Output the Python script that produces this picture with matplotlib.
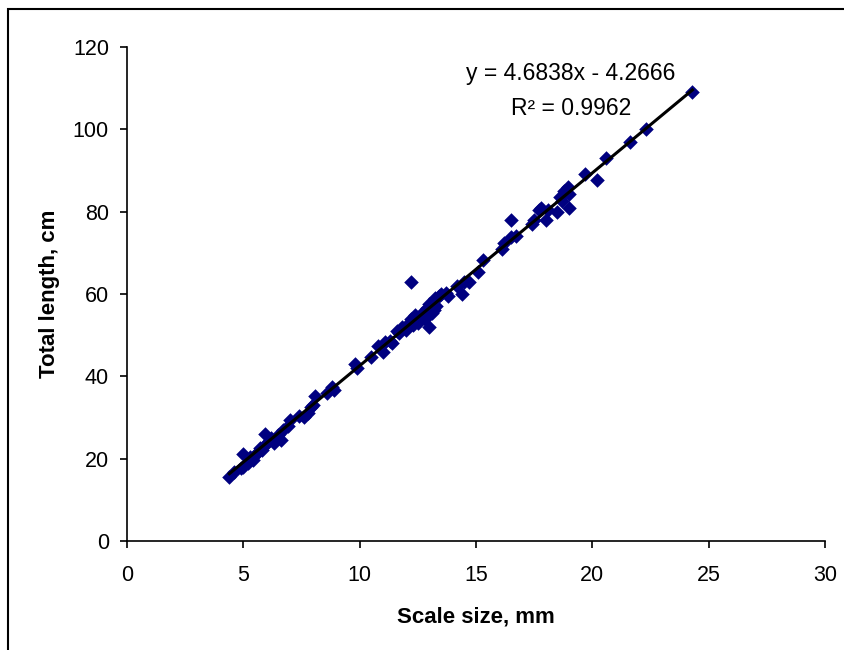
import matplotlib
matplotlib.use("Agg")
import matplotlib.pyplot as plt
from matplotlib.patches import Rectangle
import numpy as np

plt.rcParams["font.family"] = ["Liberation Sans", "DejaVu Sans"]

# scale size (mm) vs total length (cm)
scale_mm = [4.4, 4.6, 4.9, 5.0, 5.0, 5.2, 5.3, 5.4, 5.5, 5.6, 5.7, 5.8, 5.9, 5.95,
            6.05, 6.2, 6.3, 6.5, 6.6, 6.7, 6.9, 7.0, 7.4, 7.6, 7.8, 7.9, 8.0, 8.1,
            8.6, 8.8, 8.9, 9.8, 9.9, 10.5, 10.8, 11.0, 11.1, 11.3, 11.4, 11.6, 11.7,
            11.8, 12.0, 12.1, 12.2, 12.2, 12.3, 12.4, 12.5, 12.6, 12.7, 12.8, 12.9,
            13.0, 13.0, 13.1, 13.2, 13.25, 13.3, 13.4, 13.5, 13.7, 13.8, 14.2, 14.4,
            14.5, 14.7, 15.1, 15.3, 16.1, 16.2, 16.5, 16.5, 16.7, 17.4, 17.5, 17.7,
            17.8, 18.0, 18.1, 18.5, 18.6, 18.7, 18.8, 18.95, 19.0, 19.0, 19.7, 20.2,
            20.6, 21.6, 22.3, 24.3]
length_cm = [15.6, 16.8, 17.7, 21.2, 18.0, 18.9, 20.5, 19.7, 20.9, 21.3, 22.5, 22.0,
             23.0, 26.0, 24.1, 25.0, 23.8, 25.7, 24.6, 27.0, 28.0, 29.3, 30.4, 30.0,
             31.0, 32.5, 33.0, 35.3, 36.0, 37.3, 36.8, 43.0, 42.0, 44.8, 47.3, 46.0,
             48.3, 48.5, 48.0, 51.0, 50.5, 52.0, 51.3, 53.0, 63.0, 54.0, 52.5, 55.0,
             53.0, 54.2, 55.5, 54.0, 56.5, 52.0, 57.5, 55.5, 56.0, 59.0, 57.0, 59.5,
             60.0, 60.2, 59.5, 62.0, 60.0, 63.0, 62.8, 65.4, 68.3, 71.0, 72.3, 78.0,
             73.9, 74.0, 77.0, 78.0, 80.5, 81.0, 78.0, 80.3, 80.0, 83.5, 82.5, 85.0,
             86.0, 81.0, 84.3, 89.2, 87.8, 93.0, 97.0, 100.0, 109.0]

slope = 4.6838
intercept = -4.2666
r2 = 0.9962

fig = plt.figure(figsize=(8.45, 6.5), dpi=100)
ax = fig.add_axes([0.1503, 0.1677, 0.826, 0.76])

ax.scatter(scale_mm, length_cm, marker="D", s=55, c="#000080", linewidths=0, zorder=2)

xl = np.array([min(scale_mm), max(scale_mm)])
ax.plot(xl, slope * xl + intercept, color="black", lw=2.2, zorder=3)

ax.text(19.08, 113.5, f"y = {slope}x - {abs(intercept)}", ha="center", va="center", fontsize=16.5)
ax.text(19.08, 105.0, f"R² = {r2}", ha="center", va="center", fontsize=16.5)

ax.set_xlim(0, 30)
ax.set_ylim(0, 120)
ax.set_xticks(range(0, 31, 5))
ax.set_yticks(range(0, 121, 20))
for s in ["top", "right"]:
    ax.spines[s].set_visible(False)
for s in ["left", "bottom"]:
    ax.spines[s].set_linewidth(1.2)
ax.tick_params(direction="out", length=5, width=1.2, labelsize=15.5)
ax.tick_params(axis="x", pad=12)
ax.tick_params(axis="y", pad=8)
ax.set_xlabel("Scale size, mm", fontsize=16, fontweight="bold", labelpad=15)
ax.set_ylabel("Total length, cm", fontsize=16, fontweight="bold", labelpad=9)

# outer chart frame (cut off at right and bottom)
fig.patches.append(Rectangle((8.5 / 845, -0.5), 1.5, 0.5 + 1 - 9 / 650,
                             transform=fig.transFigure, fill=False,
                             edgecolor="black", lw=1.5))

fig.savefig("out.png", dpi=100)
